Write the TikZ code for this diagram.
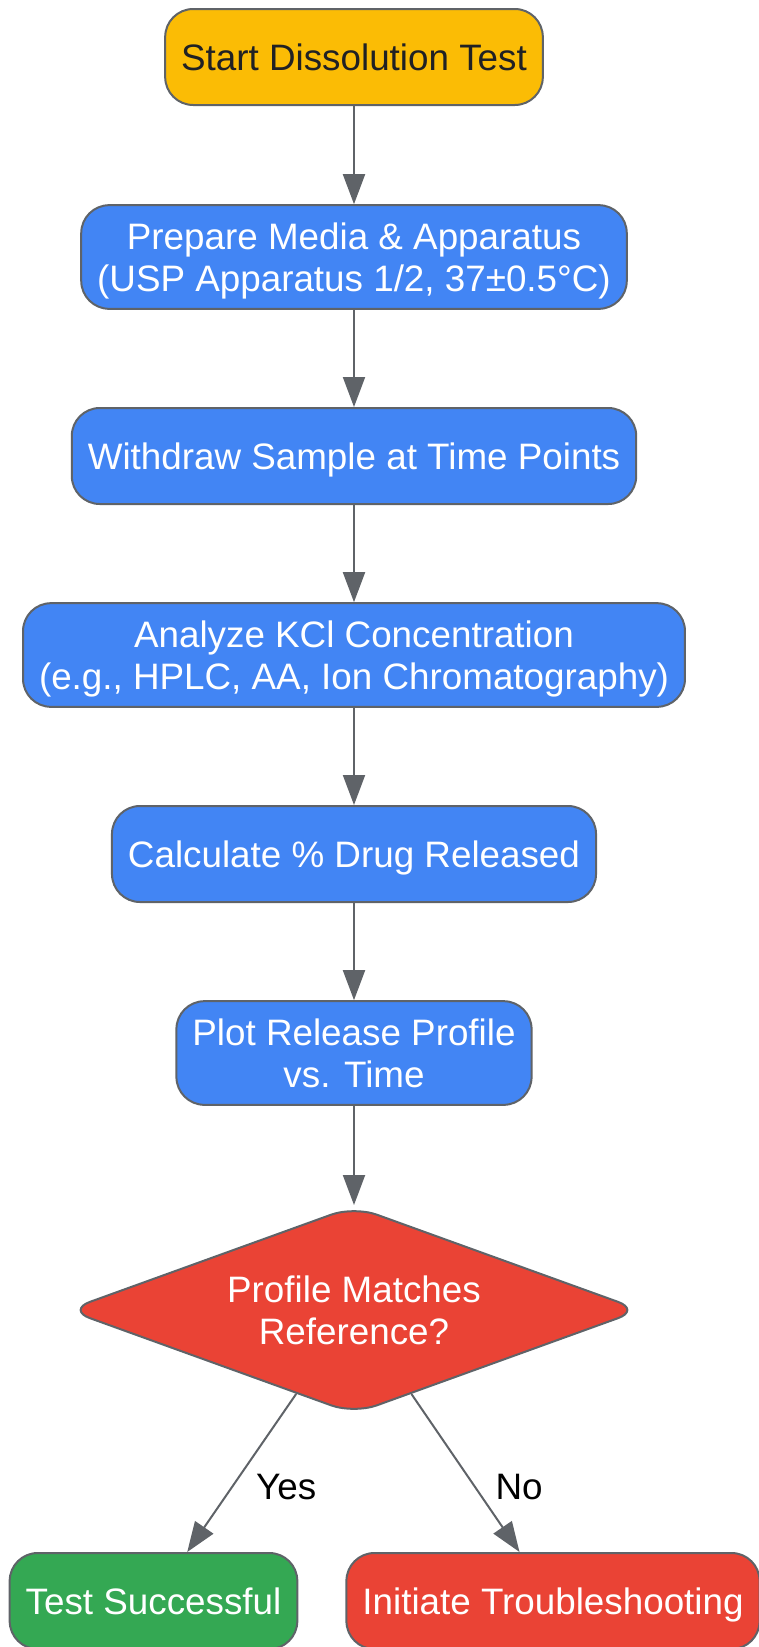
\documentclass[tikz,border=0pt]{standalone}
\usepackage{fontspec}
\setmainfont{Liberation Sans}
\usepackage{tikz}
\usetikzlibrary{positioning, shapes.geometric, arrows.meta}

\definecolor{gyellow}{HTML}{FBBC05}
\definecolor{gblue}{HTML}{4285F4}
\definecolor{gred}{HTML}{EA4335}
\definecolor{ggreen}{HTML}{34A853}
\definecolor{gborder}{HTML}{5F6368}
\definecolor{gdark}{HTML}{202124}

\begin{document}
\begin{tikzpicture}[x=1pt, y=-1pt,
        font=\fontsize{36.8}{42}\selectfont,
        box/.style={draw=gborder, line width=2pt, rounded corners=28pt, fill=gblue, text=white,
            minimum height=96pt, inner xsep=16pt, inner ysep=17.5pt, text depth=0pt, align=center},
        decision/.style={diamond, aspect=2.77, draw=gborder, line width=2pt, rounded corners=24pt, fill=gred,
            text=white, align=center, inner sep=2pt, minimum width=574pt, minimum height=208pt},
        flow/.style={draw=gborder, line width=2pt, -{Triangle[length=30pt, width=22pt]}}]
            \useasboundingbox (0, 0) rectangle (759, 1647);

            \node [box, fill=gyellow, text=gdark] (start) at (354, 57) {Start Dissolution Test};
            \node [box] (prep) at (354, 257) {Prepare Media \& Apparatus\\(USP Apparatus 1/2, 37±0.5°C)};
            \node [box] (sample) at (354, 456) {Withdraw Sample at Time Points};
            \node [box] (kcl) at (354, 655) {Analyze KCl Concentration\\(e.g., HPLC, AA, Ion Chromatography)};
            \node [box] (calc) at (354, 854) {Calculate \% Drug Released};
            \node [box] (plot) at (354, 1053) {Plot Release Profile\\vs. Time};
            \node [decision] (match) at (354, 1310) {Profile Matches\\Reference?};
            \node [box, fill=ggreen] (ok) at (153.5, 1601) {Test Successful};
            \node [box, fill=gred] (fix) at (553, 1601) {Initiate Troubleshooting};

            \draw [flow] (start) -- (prep);
            \draw [flow] (prep) -- (sample);
            \draw [flow] (sample) -- (kcl);
            \draw [flow] (kcl) -- (calc);
            \draw [flow] (calc) -- (plot);
            \draw [flow] (plot) -- (match);
            \draw [flow] (match) -- (ok) node [pos=0.59, right=20pt] {Yes};
            \draw [flow] (match) -- (fix) node [pos=0.59, right=16pt] {No};
        \end{tikzpicture}
\end{document}
